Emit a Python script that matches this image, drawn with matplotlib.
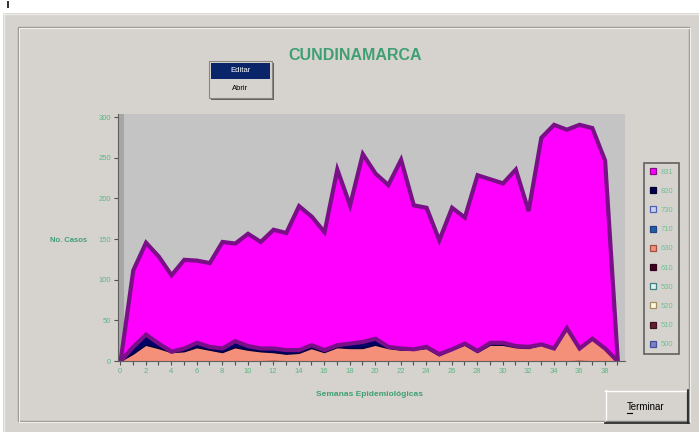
import matplotlib
matplotlib.use("Agg")
import matplotlib.pyplot as plt
from matplotlib.patches import Rectangle
from matplotlib.lines import Line2D

plt.rcParams['font.family'] = ['Liberation Sans', 'DejaVu Sans']

# semanas epidemiologicas
weeks = list(range(40))

# casos por evento (orden de apilado: de abajo hacia arriba)
s500 = [0] * 40
s510 = [0] * 40
s520 = [0] * 40
s530 = [0] * 40
s610 = [0, 0, 0, 0, 0, 0, 0, 0, 0, 0, 0, 0, 1, 0, 0, 0, 0, 0, 0, 0,
        0, 0, 0, 0, 0, 0, 0, 0, 0, 0, 0, 0, 0, 0, 0, 0, 1, 0, 0, 0]
s630 = [0, 9, 20, 16, 11, 12, 17, 14, 11, 17, 14, 12, 10, 9, 10, 16, 11, 17, 16, 16,
        20, 16, 14, 14, 16, 7, 14, 20, 11, 20, 20, 17, 16, 20, 15, 40, 15, 27, 16, 0]
s710 = [0] * 40
s730 = [0] * 40
s820 = [0, 9, 13, 6, 1, 4, 6, 4, 5, 8, 5, 4, 5, 5, 4, 4, 3, 3, 6, 8,
        8, 2, 2, 1, 2, 2, 1, 2, 2, 3, 3, 2, 2, 1, 1, 1, 0, 1, 0, 0]
s831 = [0, 94, 113, 107, 94, 109, 101, 103, 131, 120, 138, 131, 146, 144, 177, 158, 145, 216, 170, 231,
        203, 199, 232, 177, 171, 140, 174, 155, 216, 201, 196, 217, 167, 254, 275, 244, 275, 259, 231, 0]

stack_series = [s500, s510, s520, s530, s610, s630, s710, s730, s820, s831]
stack_colors = ['#8080c0', '#602030', '#fff8e0', '#e0f0f0', '#400020',
                '#f4907a', '#2060a0', '#c8d0f0', '#000066', '#ff00ff']

legend_labels = ['831', '820', '730', '710', '630', '610', '530', '520', '510', '500']
legend_faces = ['#ff00ff', '#000050', '#c8d0f0', '#2060a0', '#f4907a',
                '#400020', '#e0f0f0', '#fff8e0', '#602030', '#8080c0']
legend_edges = ['#801080', '#000030', '#5060b0', '#204080', '#a05040',
                '#300018', '#408080', '#a09060', '#401020', '#4050a0']

WIN = '#d6d3ce'
GREEN = '#3f9f73'
TICK_GREEN = '#5cb585'

fig = plt.figure(figsize=(6.99, 4.32), dpi=100)
fig.patch.set_facecolor('white')

# fondo de la ventana en pixeles
bg = fig.add_axes([0, 0, 1, 1])
bg.set_xlim(0, 699)
bg.set_ylim(432, 0)
bg.axis('off')
bg.add_patch(Rectangle((3, 13), 696, 419, fc=WIN, ec='none'))
bg.plot([3, 699], [13.5, 13.5], color='#eeece8', lw=1)
bg.plot([4, 4], [13, 432], color='#eeece8', lw=1)
bg.add_patch(Rectangle((18, 27), 671, 394, fill=False, ec='#9c988f', lw=1))
bg.add_patch(Rectangle((19, 28), 671, 394, fill=False, ec='#f2f0ec', lw=0.8))
bg.plot([8, 8], [2, 7], color='#303030', lw=1.4)

# area del grafico
ax = fig.add_axes([118 / 699, 71 / 432, 507 / 699, 247 / 432])
ax.set_facecolor('#c4c4c4')
ax.set_xlim(-0.16, 39.6)
ax.set_ylim(0, 303.7)
ax.axvspan(-0.16, 0.3, color='#a6a6a6', lw=0, zorder=0)

polys = ax.stackplot(weeks, *stack_series, colors=stack_colors)
for p in polys:
    p.set_linewidth(0)
polys[5].set_edgecolor('#d07060')
polys[5].set_linewidth(0.6)
polys[8].set_edgecolor('#000040')
polys[8].set_linewidth(1.0)
polys[9].set_edgecolor('#7a1088')
polys[9].set_linewidth(3.0)
polys[9].set_joinstyle('miter')

ax.set_yticks(range(0, 301, 50))
ax.set_xticks(range(0, 39, 2))
ax.set_xticks(range(0, 40), minor=True)
ax.tick_params(axis='both', which='both', direction='out', length=3, width=0.8,
               color='#505050', labelsize=5.5, labelcolor=TICK_GREEN, pad=2)
for side in ['top', 'right']:
    ax.spines[side].set_visible(False)
for side in ['left', 'bottom']:
    ax.spines[side].set_color('#606060')
    ax.spines[side].set_linewidth(0.8)

# titulo y rotulos
bg.text(355, 55, 'CUNDINAMARCA', ha='center', va='center', fontsize=11.5,
        weight='bold', color=GREEN)
bg.text(69, 240, 'No. Casos', ha='center', va='center', fontsize=5.5,
        weight='bold', color=GREEN)
bg.text(370, 394, 'Semanas Epidemiológicas', ha='center', va='center', fontsize=6,
        weight='bold', color=GREEN)

# leyenda
handles = [Line2D([], [], marker='s', ls='none', markersize=5, mfc=f, mec=e, mew=0.9)
           for f, e in zip(legend_faces, legend_edges)]
leg = fig.legend(handles, legend_labels, loc='upper left',
                 bbox_to_anchor=(644 / 699, 1 - 163 / 432), fontsize=5.5,
                 labelcolor='#70c095', frameon=True, fancybox=False,
                 facecolor=WIN, edgecolor='#606060', framealpha=1,
                 handlelength=0.9, handletextpad=0.6, labelspacing=1.55,
                 borderpad=0.7, borderaxespad=0)
leg.get_frame().set_linewidth(1.2)

# menu contextual
bg.add_patch(Rectangle((211, 63), 63, 37, fc='#606060', ec='none'))
bg.add_patch(Rectangle((209, 61), 63, 37, fc=WIN, ec='#8a8680', lw=0.8))
bg.add_patch(Rectangle((211, 63), 59, 16, fc='#0a246a', ec='none'))
bg.text(240.5, 71, 'Editar', ha='center', va='center', fontsize=5.5, color='white')
bg.text(240.5, 88, 'Abrir', ha='center', va='center', fontsize=5.5, color='black')

# boton Terminar
bg.add_patch(Rectangle((605, 390), 83, 33, fc=WIN, ec='none'))
bg.plot([605, 687], [390.5, 390.5], color='white', lw=1)
bg.plot([605.5, 605.5], [390, 422], color='white', lw=1)
bg.plot([606, 687], [421, 421], color='#808080', lw=1)
bg.plot([686.5, 686.5], [391, 421], color='#808080', lw=1)
bg.plot([605, 689], [422.8, 422.8], color='#202020', lw=1.2)
bg.plot([688.3, 688.3], [390, 423], color='#202020', lw=1.2)
bg.text(646, 407, 'Terminar', ha='center', va='center', fontsize=7, color='black')
bg.plot([626.5, 632], [412.5, 412.5], color='black', lw=0.8)

fig.savefig('out.png', dpi=100, facecolor=fig.get_facecolor())
